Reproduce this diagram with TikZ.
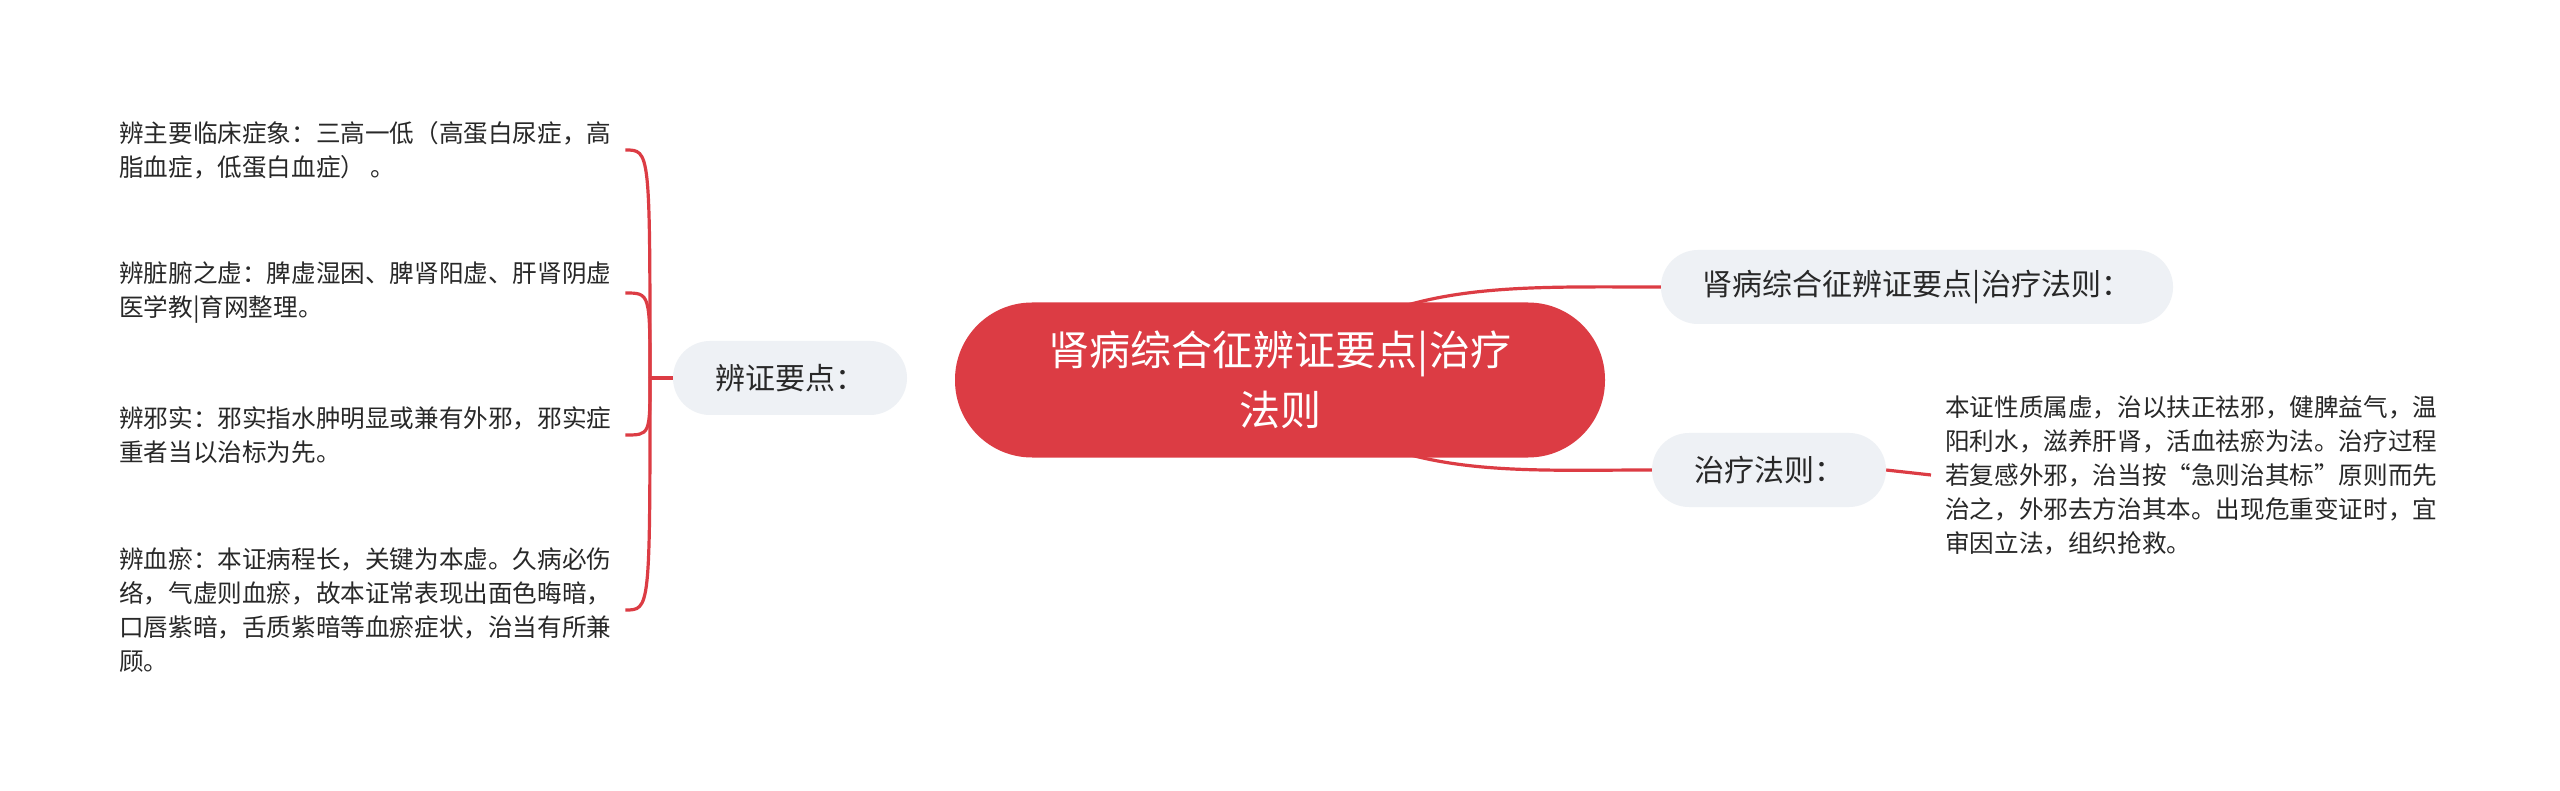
\documentclass[tikz,border=0pt]{standalone}
\usepackage{fontspec}
\usepackage{tikz}
\newfontfamily\cjk{Noto Sans CJK SC}
\definecolor{zred}{RGB}{220,60,68}
\definecolor{zgray}{RGB}{238,241,245}
\definecolor{ztext}{RGB}{40,40,40}

\begin{document}
\begin{tikzpicture}[x=1pt,y=-1pt, font=\cjk,
    line/.style={draw=zred, line width=3.2pt},
    topic/.style={fill=zgray, rounded corners=37pt, minimum height=74pt, inner xsep=42pt, text=ztext, font=\cjk\fontsize{30}{36}\selectfont},
    leaf/.style={anchor=west, inner xsep=14pt, inner ysep=0pt, align=left, text=ztext, font=\cjk\fontsize{24.6}{34}\selectfont}]
    \fill[white] (0,0) rectangle (2560,791);
    \useasboundingbox (0,0) rectangle (2560,791);

    \node[topic](bz) at (790,378) {辨证要点：};
    \node[topic](zf) at (1917,287) {肾病综合征辨证要点|治疗法则：};
    \node[topic](zl) at (1769,470) {治疗法则：};

    \node[leaf](l1) at (105,150) {辨主要临床症象：三高一低（高蛋白尿症，高\\脂血症，低蛋白血症） 。};
    \node[leaf](l2) at (105,293) {辨脏腑之虚：脾虚湿困、脾肾阳虚、肝肾阴虚\\医学教|育网整理。};
    \node[leaf](l3) at (105,435) {辨邪实：邪实指水肿明显或兼有外邪，邪实症\\重者当以治标为先。};
    \node[leaf](l4) at (105,610) {辨血瘀：本证病程长，关键为本虚。久病必伤\\络，气虚则血瘀，故本证常表现出面色晦暗，\\口唇紫暗，舌质紫暗等血瘀症状，治当有所兼\\顾。};
    \node[leaf](r1) at (1931,475) {本证性质属虚，治以扶正祛邪，健脾益气，温\\阳利水，滋养肝肾，活血祛瘀为法。治疗过程\\若复感外邪，治当按“急则治其标”原则而先\\治之，外邪去方治其本。出现危重变证时，宜\\审因立法，组织抢救。};

    \coordinate(jl) at (650,378);
    \coordinate(rc) at (1280,380);
    \draw[line](bz.west)--(jl);
    \foreach \k in {l1,l2,l3,l4}{\draw[line](jl) .. controls (jl |- \k.east) and (jl |- \k.east) .. (\k.east);}
    \draw[line](rc) .. controls (1380,280) and (1500,287) .. (zf.west);
    \draw[line](rc) .. controls (1380,480) and (1500,470) .. (zl.west);
    \draw[line](zl.east)--(r1.west);

    \node[fill=zred, rounded corners=77pt, minimum width=650pt, minimum height=155pt, text=white, align=center, font=\cjk\fontsize{41}{60}\selectfont](root) at (rc) {肾病综合征辨证要点|治疗\\法则};
\end{tikzpicture}
\end{document}
